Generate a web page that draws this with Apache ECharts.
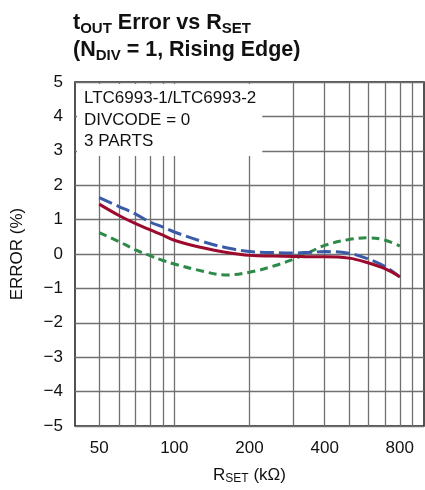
<!DOCTYPE html>
<html>
<head>
<meta charset="utf-8">
<script src="https://cdn.jsdelivr.net/npm/echarts@6/dist/echarts.min.js"></script>
<style>html,body{margin:0;padding:0;background:#fff}#c{width:425px;height:490px}</style>
</head>
<body>
<div id="c"></div>
<script>
// ---- data ----
const rSet = [50, 60, 70, 80, 90, 100, 130, 160, 200, 250, 300, 350, 400, 500, 600, 700, 800]; // kΩ
const part1 = [1.45, 1.12, 0.88, 0.70, 0.55, 0.40, 0.18, 0.05, -0.04, -0.06, -0.07, -0.08, -0.08, -0.12, -0.26, -0.43, -0.66];
const part2 = [1.64, 1.38, 1.16, 0.93, 0.78, 0.64, 0.36, 0.19, 0.07, 0.04, 0.03, 0.05, 0.07, 0.02, -0.15, -0.37, -0.67];
const part3 = [0.62, 0.36, 0.12, -0.05, -0.19, -0.29, -0.50, -0.61, -0.53, -0.35, -0.15, 0.06, 0.25, 0.42, 0.47, 0.40, 0.23];
const xTickLabels = [50, 100, 200, 400, 800];
const xGridValues = [50, 60, 70, 80, 90, 100, 200, 300, 400, 500, 600, 700, 800, 900];
const xMin = 40, xMax = 1000;
const yMin = -5, yMax = 5, yStep = 1;
const noteLines = ['LTC6993-1/LTC6993-2', 'DIVCODE = 0', '3 PARTS'];

const F = '"Liberation Sans", Arial, Helvetica, sans-serif';
const lg = v => Math.log10(v);
const toPts = arr => rSet.map((r, i) => [lg(r), arr[i]]);

const chart = echarts.init(document.getElementById('c'), null, {renderer: 'canvas'});
chart.setOption({
  animation: false,
  backgroundColor: '#fff',
  title: [{
    left: 68, top: 5,
    text: '{m|t}{s|OUT}{m| Error vs R}{s|SET}\n{m|(N}{s|DIV}{m| = 1, Rising Edge)}',
    textStyle: {
      rich: {
        m: {fontFamily: F, fontWeight: 'bold', fontSize: 21.5, lineHeight: 26.5, color: '#111'},
        s: {fontFamily: F, fontWeight: 'bold', fontSize: 15, lineHeight: 18, color: '#111', padding: [12, 0, 0, 0]}
      }
    }
  }, {
    left: 77, top: 84,
    text: noteLines.join('\n'),
    backgroundColor: '#fff',
    padding: [4, 6, 4, 7],
    textStyle: {fontFamily: F, fontWeight: 'normal', fontSize: 17, lineHeight: 21.3, color: '#111'}
  }],
  grid: {left: 75, right: 1, top: 82, bottom: 57, show: true, borderColor: '#1a1a1a', borderWidth: 1.5, containLabel: false},
  xAxis: {
    type: 'value', min: lg(xMin), max: lg(xMax),
    name: '{m|R}{s|SET}{m| (kΩ)}', nameLocation: 'middle', nameGap: 39,
    nameTextStyle: {rich: {
      m: {fontFamily: F, fontSize: 17, color: '#111'},
      s: {fontFamily: F, fontSize: 12, color: '#111', padding: [8, 0, 0, 0]}
    }},
    axisLine: {show: false},
    axisTick: {show: false, customValues: xGridValues.map(lg)},
    axisLabel: {customValues: xTickLabels.map(lg), formatter: v => String(Math.round(Math.pow(10, v))),
      fontFamily: F, fontSize: 17, color: '#111', margin: 14},
    splitLine: {show: true, lineStyle: {color: '#707070', width: 1.3}}
  },
  yAxis: {
    type: 'value', min: yMin, max: yMax, interval: yStep,
    name: 'ERROR (%)', nameLocation: 'middle', nameGap: 49, nameRotate: 90,
    nameTextStyle: {fontFamily: F, fontSize: 17, color: '#111'},
    axisLine: {show: false}, axisTick: {show: false},
    axisLabel: {formatter: v => (v < 0 ? '\u2212' + (-v) : String(v)), fontFamily: F, fontSize: 17, color: '#111', margin: 12},
    splitLine: {show: true, lineStyle: {color: '#707070', width: 1.3}}
  },
  series: [
    {type: 'line', data: toPts(part3), smooth: 0.4, symbol: 'none', z: 3,
      lineStyle: {color: '#2e8a48', width: 3, type: [8, 5]}},
    {type: 'line', data: toPts(part2), smooth: 0.4, symbol: 'none', z: 4,
      lineStyle: {color: '#3b5ba9', width: 3, type: [14, 5]}},
    {type: 'line', data: toPts(part1), smooth: 0.4, symbol: 'none', z: 5,
      lineStyle: {color: '#9c0b2e', width: 3}}
  ]
});
</script>
</body>
</html>
